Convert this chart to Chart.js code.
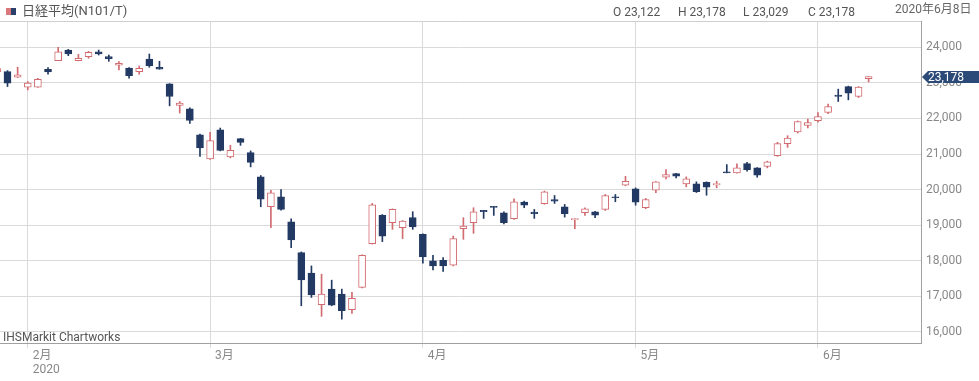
<!DOCTYPE html>
<html>
<head>
<meta charset="utf-8">
<script src="https://cdn.jsdelivr.net/npm/chart.js@4/dist/chart.umd.min.js"></script>
<style>
  html, body { margin: 0; padding: 0; background: #fff; }
  #wrap { position: relative; width: 979px; height: 381px; overflow: hidden; font-family: Roboto, "Noto Sans CJK JP", sans-serif; }
  canvas { position: absolute; left: 0; top: 0; }
  .t { position: absolute; white-space: nowrap; line-height: 1; }
  #icon1 { position: absolute; left: 6px; top: 8px; width: 5px; height: 7px; background: #d9777b; }
  #icon2 { position: absolute; left: 11px; top: 8px; width: 5px; height: 7px; background: #2b3f6b; }
</style>
</head>
<body>
<div id="wrap">
  <canvas id="c" width="979" height="381"></canvas>
  <div id="icon1"></div><div id="icon2"></div>
  <div class="t" id="title" style="left:22px;top:4px;font-size:13px;color:#555;">日経平均(N101/T)</div>
  <div class="t" id="o" style="left:613px;top:6px;font-size:12px;color:#555;"></div>
  <div class="t" id="h" style="left:678px;top:6px;font-size:12px;color:#555;"></div>
  <div class="t" id="l" style="left:743px;top:6px;font-size:12px;color:#555;"></div>
  <div class="t" id="cl" style="left:808px;top:6px;font-size:12px;color:#555;"></div>
  <div class="t" id="date" style="left:895px;top:3px;font-size:12px;color:#666;">2020年6月8日</div>
  <div class="t" style="left:3px;top:331px;font-size:12px;color:#555;">IHSMarkit Chartworks</div>
</div>
<script>
// ---- data ----
const dates = [
  '2020-01-29','2020-01-30','2020-01-31',
  '2020-02-03','2020-02-04','2020-02-05','2020-02-06','2020-02-07','2020-02-10','2020-02-12','2020-02-13','2020-02-14',
  '2020-02-17','2020-02-18','2020-02-19','2020-02-20','2020-02-21','2020-02-25','2020-02-26','2020-02-27','2020-02-28',
  '2020-03-02','2020-03-03','2020-03-04','2020-03-05','2020-03-06','2020-03-09','2020-03-10','2020-03-11','2020-03-12','2020-03-13',
  '2020-03-16','2020-03-17','2020-03-18','2020-03-19','2020-03-23','2020-03-24','2020-03-25','2020-03-26','2020-03-27','2020-03-30','2020-03-31',
  '2020-04-01','2020-04-02','2020-04-03','2020-04-06','2020-04-07','2020-04-08','2020-04-09','2020-04-10','2020-04-13','2020-04-14',
  '2020-04-15','2020-04-16','2020-04-17','2020-04-20','2020-04-21','2020-04-22','2020-04-23','2020-04-24','2020-04-27','2020-04-28','2020-04-30',
  '2020-05-01','2020-05-07','2020-05-08','2020-05-11','2020-05-12','2020-05-13','2020-05-14','2020-05-15','2020-05-18','2020-05-19',
  '2020-05-20','2020-05-21','2020-05-22','2020-05-25','2020-05-26','2020-05-27','2020-05-28','2020-05-29',
  '2020-06-01','2020-06-02','2020-06-03','2020-06-04','2020-06-05','2020-06-08'
];
const opens = [
  23310,23317,23160,
  22880,22880,23384,23625,23924,23625,23737,23877,23737,
  23496,23420,23317,23672,23440,22972,22365,22272,21544,
  20864,21684,20920,21432,21040,20360,19520,19800,19099,18231,
  17652,16764,17204,17064,16624,17252,18484,19276,19071,18932,19212,
  18744,17996,18016,17876,18904,19071,19416,19520,19352,19183,
  19648,19368,19604,19724,19520,19156,19352,19380,19444,19800,20124,
  20024,19492,19984,20348,20452,20164,20164,20208,20136,20500,
  20472,20732,20612,20656,20956,21292,21620,21804,
  21936,22168,22656,22897,22617,23122
];
const highs = [
  23420,23345,23440,
  23037,23130,23429,24000,23944,23804,23888,23924,23784,
  23597,23430,23476,23812,23608,22980,22477,22300,21560,
  21609,21731,21245,21440,21088,20396,19984,20004,19183,18250,
  17856,17624,17456,17204,17111,18170,19612,19300,19460,19130,19380,
  18760,18156,18091,18696,19212,19492,19420,19525,19380,19744,
  19676,19444,19960,19836,19584,19190,19492,19390,19864,19864,20376,
  20050,19752,20230,20564,20460,20360,20220,20220,20236,20704,
  20724,20768,20620,20800,21330,21516,21930,21984,
  22168,22404,22824,22910,22897,23178
];
const lows = [
  23290,22897,23150,
  22804,22870,23244,23625,23765,23620,23692,23784,23608,
  23364,23132,23244,23440,23384,22356,22152,21860,20936,
  20850,21090,20892,21245,20640,19519,18931,19424,18371,16736,
  16971,16440,16736,16360,16524,17240,18470,18540,18884,18624,18884,
  17932,17744,17700,17856,18604,18772,19192,19276,19040,19164,
  19492,19192,19590,19612,19228,18904,19276,19212,19416,19660,20110,
  19564,19464,19912,20304,20332,20080,19920,19844,20052,20472,
  20460,20516,20348,20612,20936,21188,21592,21732,
  21900,22132,22477,22524,22589,23029
];
const closes = [
  23400,22992,23224,
  22992,23104,23308,23877,23812,23692,23860,23812,23681,
  23552,23205,23412,23485,23384,22617,22432,21945,21172,
  21376,21104,21104,21328,20768,19733,19912,19444,18584,17464,
  17044,17064,16756,16596,16943,18156,19576,18696,19444,19116,18949,
  18108,17856,17856,18624,18977,19380,19380,19500,19071,19660,
  19564,19324,19940,19676,19324,19183,19464,19284,19836,19772,20236,
  19648,19724,20220,20424,20376,20304,19940,20068,20172,20472,
  20612,20564,20404,20780,21292,21452,21916,21888,
  22056,22336,22617,22712,22880,23178
];
const monthLabels = ['2月','3月','4月','5月','6月'];
const yearLabel = '2020';
const yTickValues = [16000,17000,18000,19000,20000,21000,22000,23000,24000];

// ---- derived ----
const UP_COLOR = '#d26b70';
const DOWN_COLOR = '#223a63';
const isUp = closes.map((c, i) => c >= opens[i]);
const monthTickIdx = [];
for (let i = 1; i < dates.length; i++) {
  if (dates[i].slice(5, 7) !== dates[i - 1].slice(5, 7)) monthTickIdx.push(i);
}
const fmt = v => v.toLocaleString('en-US');
const last = dates.length - 1;
document.getElementById('o').textContent = 'O ' + fmt(opens[last]);
document.getElementById('h').textContent = 'H ' + fmt(highs[last]);
document.getElementById('l').textContent = 'L ' + fmt(lows[last]);
document.getElementById('cl').textContent = 'C ' + fmt(closes[last]);

const wickData = dates.map((d, i) => ({ x: i, y: [lows[i], highs[i]] }));
const bodyData = dates.map((d, i) => ({ x: i, y: [opens[i], closes[i]] }));

const extras = {
  id: 'extras',
  afterDraw(chart) {
    const { ctx, chartArea, scales } = chart;
    ctx.save();
    ctx.strokeStyle = '#cfcfcf';
    ctx.lineWidth = 1;
    ctx.beginPath();
    ctx.moveTo(0, chartArea.top + 0.5);
    ctx.lineTo(chartArea.right, chartArea.top + 0.5);
    ctx.stroke();
    const y = Math.round(scales.y.getPixelForValue(closes[last]));
    const x0 = chartArea.right + 1;
    ctx.fillStyle = '#2b4a78';
    ctx.beginPath();
    ctx.moveTo(x0, y);
    ctx.lineTo(x0 + 6, y - 6);
    ctx.lineTo(979, y - 6);
    ctx.lineTo(979, y + 6);
    ctx.lineTo(x0 + 6, y + 6);
    ctx.closePath();
    ctx.fill();
    ctx.fillStyle = '#ffffff';
    ctx.font = '12px Roboto';
    ctx.textBaseline = 'middle';
    ctx.textAlign = 'left';
    ctx.fillText(fmt(closes[last]), x0 + 6, y + 0.5);
    ctx.restore();
  }
};

new Chart(document.getElementById('c'), {
  type: 'bar',
  data: {
    datasets: [
      {
        label: 'body',
        data: bodyData,
        order: 0,
        grouped: false,
        barThickness: 7,
        minBarLength: 1,
        backgroundColor: isUp.map(u => u ? '#ffffff' : DOWN_COLOR),
        borderColor: isUp.map(u => u ? UP_COLOR : DOWN_COLOR),
        borderWidth: 1,
        borderSkipped: false
      },
      {
        label: 'wick',
        data: wickData,
        order: 1,
        grouped: false,
        barThickness: 1,
        minBarLength: 1,
        backgroundColor: isUp.map(u => u ? UP_COLOR : DOWN_COLOR),
        borderWidth: 0
      }
    ]
  },
  options: {
    responsive: false,
    devicePixelRatio: 1,
    animation: false,
    layout: { padding: { top: 21, left: 0, right: 0, bottom: 0 } },
    plugins: { legend: { display: false }, tooltip: { enabled: false } },
    scales: {
      x: {
        type: 'linear',
        min: 0.26,
        max: 91.17,
        offset: false,
        afterFit: s => { s.height = 38; },
        afterBuildTicks: s => { s.ticks = monthTickIdx.map(v => ({ value: v })); },
        grid: { offset: false, color: '#dadada', tickLength: 5, drawOnChartArea: true },
        border: { display: true, color: '#a0a0a0' },
        ticks: {
          autoSkip: false,
          maxRotation: 0,
          align: 'start',
          labelOffset: 5,
          padding: 1,
          color: '#888',
          font: { family: 'Roboto, "Noto Sans CJK JP"', size: 12, lineHeight: 1.15 },
          callback: (v, i) => i === 0 ? [monthLabels[i], yearLabel] : monthLabels[i]
        }
      },
      y: {
        position: 'right',
        min: 15690,
        max: 24740,
        afterFit: s => { s.width = 58; },
        afterBuildTicks: s => { s.ticks = yTickValues.map(v => ({ value: v })); },
        grid: { color: '#dadada', drawTicks: false },
        border: { display: true, color: '#a0a0a0' },
        ticks: {
          padding: 5,
          color: '#888',
          font: { family: 'Roboto', size: 12 },
          callback: v => fmt(v)
        }
      }
    }
  },
  plugins: [extras]
});
</script>
</body>
</html>
